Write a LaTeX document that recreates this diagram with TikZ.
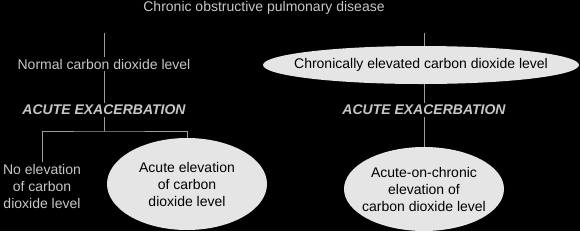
\documentclass[tikz,border=0pt]{standalone}
\usepackage{fontspec}
\setmainfont{Liberation Sans}
\usetikzlibrary{shapes.geometric, positioning}

\definecolor{linegray}{gray}{0.62}
\definecolor{textgray}{gray}{0.78}
\definecolor{ovalgray}{gray}{0.9}

\begin{document}
\begin{tikzpicture}[
            x=1pt, y=-1pt,
            plain/.style={
                    text=textgray,
                    align=center,
                    inner sep=2pt,
                    font=\fontsize{14}{17}\selectfont
                },
            phase/.style={
                    plain,
                    font=\fontsize{14}{17}\selectfont\bfseries\itshape
                },
            oval/.style={
                    ellipse,
                    fill=ovalgray,
                    draw=none,
                    inner sep=0pt
                },
            inoval/.style={
                    text=black,
                    align=center,
                    font=\fontsize{14}{17}\selectfont
                },
            line/.style={
                    draw=linegray,
                    line width=0.8pt
                }
        ]

        % Frame
        \fill [black] (0,0) rectangle (580,231);
        \useasboundingbox (0,0) rectangle (580,231);

        % Nodes
        \node [plain] (copd) at (264,8) {Chronic obstructive pulmonary disease};
        \coordinate (ltop) at (104,33);
        \coordinate (rtop) at (424,33);

        \node [plain] (normal) at (104,64) {Normal carbon dioxide level};
        \node [oval, minimum width=316pt, minimum height=38pt,
               label={[inoval]center:Chronically elevated carbon dioxide level}]
               (chronic) at (421,65) {};

        \node [phase] (acuteL) at (104,110) {ACUTE EXACERBATION};
        \node [phase] (acuteR) at (424,110) {ACUTE EXACERBATION};

        \coordinate (split) at (104,131);
        \node [plain] (noelev) at (42,186) {No elevation\\of carbon\\dioxide level};
        \node [oval, minimum width=160pt, minimum height=92pt,
               label={[inoval]center:Acute elevation\\of carbon\\dioxide level}]
               (acuteelev) at (187,184) {};
        \node [oval, minimum width=160pt, minimum height=84pt,
               label={[inoval]center:Acute-on-chronic\\elevation of\\carbon dioxide level}]
               (acuteon) at (424,189) {};

        % Left branch
        \path [line] (ltop) -- (normal.north);
        \path [line] (normal.south) -- (acuteL.north);
        \path [line] (acuteL.south) -- (split);
        \path [line] (noelev.north) |- (split) -| (acuteelev.north);

        % Right branch
        \path [line] (rtop) -- (chronic.north -| rtop);
        \path [line] (chronic.south -| rtop) -- (acuteR.north);
        \path [line] (acuteR.south) -- (acuteon.north);
    \end{tikzpicture}
\end{document}
